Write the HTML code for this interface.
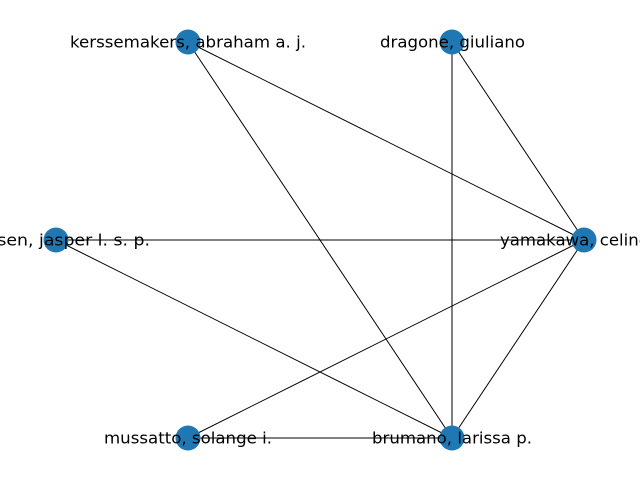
<!DOCTYPE html>
<html><head><meta charset="utf-8"><style>
html,body{margin:0;padding:0;background:#fff;}
svg{display:block;}
text{font-family:"DejaVu Sans","Liberation Sans",sans-serif;font-size:16px;fill:#000;}
</style></head><body>
<svg width="640" height="480" viewBox="0 0 640 480" xmlns="http://www.w3.org/2000/svg">
<g stroke="#000" stroke-width="1">
<line x1="188" y1="42" x2="584" y2="240"/>
<line x1="188" y1="42" x2="452" y2="438"/>
<line x1="452" y1="42" x2="584" y2="240"/>
<line x1="452" y1="42" x2="452" y2="438"/>
<line x1="56" y1="240" x2="584" y2="240"/>
<line x1="56" y1="240" x2="452" y2="438"/>
<line x1="584" y1="240" x2="188" y2="438"/>
<line x1="584" y1="240" x2="452" y2="438"/>
<line x1="188" y1="438" x2="452" y2="438"/>
</g>
<g fill="#1f77b4">
<circle cx="188" cy="42" r="12.5"/>
<circle cx="452" cy="42" r="12.5"/>
<circle cx="584" cy="240" r="12.5"/>
<circle cx="56" cy="240" r="12.5"/>
<circle cx="188" cy="438" r="12.5"/>
<circle cx="452" cy="438" r="12.5"/>
</g>
<g dominant-baseline="central">
<text x="70" y="42" textLength="236" lengthAdjust="spacingAndGlyphs">kerssemakers, abraham a. j.</text>
<text x="380" y="42" textLength="145" lengthAdjust="spacingAndGlyphs">dragone, giuliano</text>
<text x="500" y="240" textLength="168" lengthAdjust="spacingAndGlyphs">yamakawa, celine s.</text>
<text x="-38" y="240" textLength="188" lengthAdjust="spacingAndGlyphs">janssen, jasper l. s. p.</text>
<text x="104" y="438" textLength="168" lengthAdjust="spacingAndGlyphs">mussatto, solange i.</text>
<text x="372" y="438" textLength="160" lengthAdjust="spacingAndGlyphs">brumano, larissa p.</text>
</g>
</svg>
</body></html>
